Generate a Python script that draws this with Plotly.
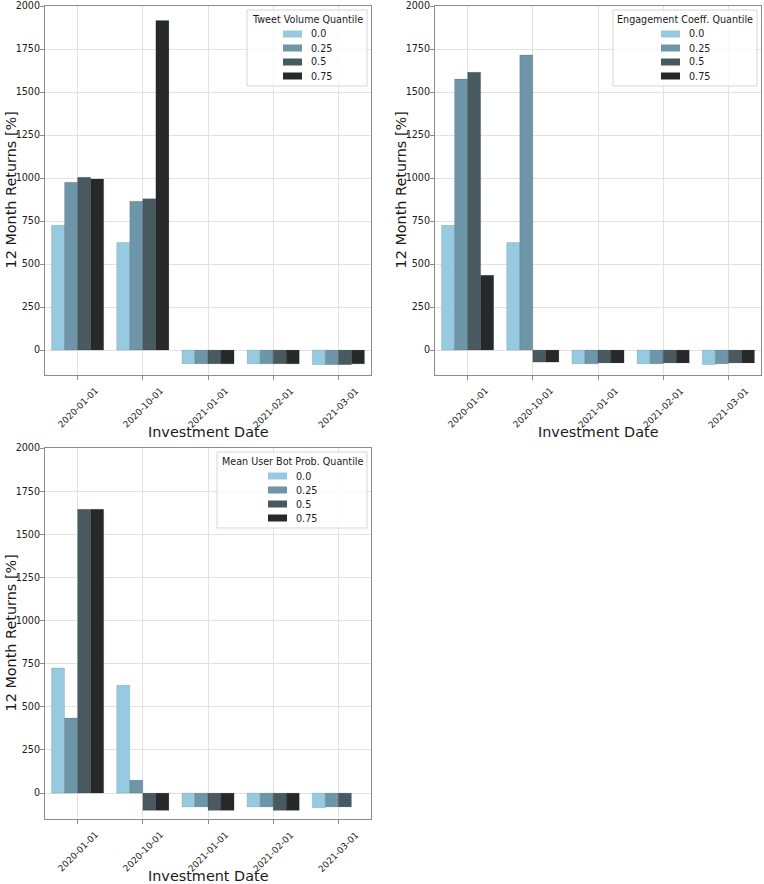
import plotly.graph_objects as go

dates = ["2020-01-01", "2020-10-01", "2021-01-01", "2021-02-01", "2021-03-01"]
quantiles = ["0.0", "0.25", "0.5", "0.75"]
colors = ["#95cae1", "#6f95a8", "#48595f", "#26282a"]
y_ticks = [0, 250, 500, 750, 1000, 1250, 1500, 1750, 2000]

# Tweet Volume Quantile
tweet_q00 = [725, 625, -80, -80, -85]
tweet_q25 = [975, 865, -80, -80, -85]
tweet_q50 = [1005, 880, -80, -80, -85]
tweet_q75 = [995, 1915, -80, -80, -80]

# Engagement Coeff. Quantile
eng_q00 = [725, 625, -80, -80, -85]
eng_q25 = [1575, 1715, -80, -80, -80]
eng_q50 = [1615, -70, -75, -75, -75]
eng_q75 = [435, -70, -75, -75, -75]

# Mean User Bot Prob. Quantile
bot_q00 = [725, 625, -80, -80, -85]
bot_q25 = [435, 75, -80, -80, -80]
bot_q50 = [1645, -100, -100, -100, -80]
bot_q75 = [1645, -100, -100, -100, None]

legend_titles = ["Tweet Volume Quantile", "Engagement Coeff. Quantile", "Mean User Bot Prob. Quantile"]
panel_series = [
    [tweet_q00, tweet_q25, tweet_q50, tweet_q75],
    [eng_q00, eng_q25, eng_q50, eng_q75],
    [bot_q00, bot_q25, bot_q50, bot_q75],
]

# ---- styling / geometry (pixels) ----
W, H = 764, 884
boxes = [(45, 371, 6, 375), (435, 761, 6, 375), (45, 371, 448, 819)]  # left, right, top, bottom
y_bottoms = [-145, -145, -150]
legend_widths = [120, 144, 150]
FONT = "DejaVu Sans"
TXT = "#1a1a1a"
TICK_FS = 9.6
XTICK_FS = 9.0
LABEL_FS = 14.4


def px(x):
    return x / W


def py(y):
    return 1 - y / H


fig = go.Figure()
layout = dict(
    width=W, height=H, margin=dict(l=0, r=0, t=0, b=0, autoexpand=False),
    plot_bgcolor="white", paper_bgcolor="white",
    barmode="group", bargap=0.2, bargroupgap=0, showlegend=False,
    font=dict(family=FONT, color=TXT, size=TICK_FS),
)
shapes, annotations = [], []

for i, (ltitle, series) in enumerate(zip(legend_titles, panel_series)):
    n = "" if i == 0 else str(i + 1)
    xl, xr, yt, yb = boxes[i]
    for q, vals, c in zip(quantiles, series, colors):
        fig.add_trace(go.Bar(
            x=dates, y=vals, name=q,
            marker=dict(color=c, line=dict(color="rgba(0,0,0,0.22)", width=0.5)),
            xaxis="x" + n, yaxis="y" + n, offsetgroup=q,
        ))
    common = dict(showgrid=True, gridcolor="#e2e2e2", gridwidth=1,
                  showline=True, linecolor="#8c8c8c", linewidth=1, mirror=True,
                  ticks="outside", ticklen=4, tickcolor="#8c8c8c", automargin=False)
    layout["xaxis" + n] = dict(
        domain=[px(xl), px(xr)], anchor="y" + n, type="category",
        range=[-0.5, len(dates) - 0.5], showticklabels=False, **common,
    )
    layout["yaxis" + n] = dict(
        domain=[py(yb), py(yt)], anchor="x" + n,
        range=[y_bottoms[i], 2000], tickvals=y_ticks, zeroline=False,
        ticklabelstandoff=-2,
        tickfont=dict(size=TICK_FS, family=FONT, color=TXT), **common,
    )
    # rotated x tick labels, centred on each tick
    for d in dates:
        annotations.append(dict(
            x=d, xref="x" + n, y=py(yb + 8), yref="paper", text=d, showarrow=False,
            textangle=-45, xanchor="center", yanchor="top",
            font=dict(size=XTICK_FS, family=FONT, color=TXT),
        ))
    # axis titles
    annotations.append(dict(
        x=px((xl + xr) / 2), y=py(yb + 57), xref="paper", yref="paper", text="Investment Date",
        showarrow=False, xanchor="center", yanchor="middle",
        font=dict(size=LABEL_FS, family=FONT, color=TXT),
    ))
    annotations.append(dict(
        x=px(xl - 35), y=py((yt + yb) / 2), xref="paper", yref="paper", text="12 Month Returns [%]",
        showarrow=False, xanchor="center", yanchor="middle", textangle=-90,
        font=dict(size=LABEL_FS, family=FONT, color=TXT),
    ))
    # legend (matplotlib style)
    lw = legend_widths[i]
    bx1 = xr - 4
    bx0 = bx1 - lw
    by0 = yt + 4
    by1 = yt + 80
    cx = (bx0 + bx1) / 2
    shapes.append(dict(
        type="rect", xref="paper", yref="paper", x0=px(bx0), x1=px(bx1), y0=py(by1), y1=py(by0),
        fillcolor="rgba(255,255,255,0.8)", line=dict(color="#d6d6d6", width=1), layer="above",
    ))
    annotations.append(dict(
        x=px(cx), y=py(yt + 13), xref="paper", yref="paper", text=ltitle, showarrow=False,
        xanchor="center", yanchor="middle", font=dict(size=TICK_FS, family=FONT, color=TXT),
    ))
    block_left = cx - 24
    for k, (q, c) in enumerate(zip(quantiles, colors)):
        ey = yt + 28 + 14 * k
        shapes.append(dict(
            type="rect", xref="paper", yref="paper",
            x0=px(block_left), x1=px(block_left + 19), y0=py(ey + 3.5), y1=py(ey - 3.5),
            fillcolor=c, line=dict(width=0), layer="above",
        ))
        annotations.append(dict(
            x=px(block_left + 26), y=py(ey), xref="paper", yref="paper", text=q, showarrow=False,
            xanchor="left", yanchor="middle", font=dict(size=TICK_FS, family=FONT, color=TXT),
        ))

layout["shapes"] = shapes
layout["annotations"] = annotations
fig.update_layout(**layout)
fig.write_html(
    "out.html",
    config={"displayModeBar": False},
    post_script="document.body.style.margin='0';document.body.style.overflow='hidden';",
)
